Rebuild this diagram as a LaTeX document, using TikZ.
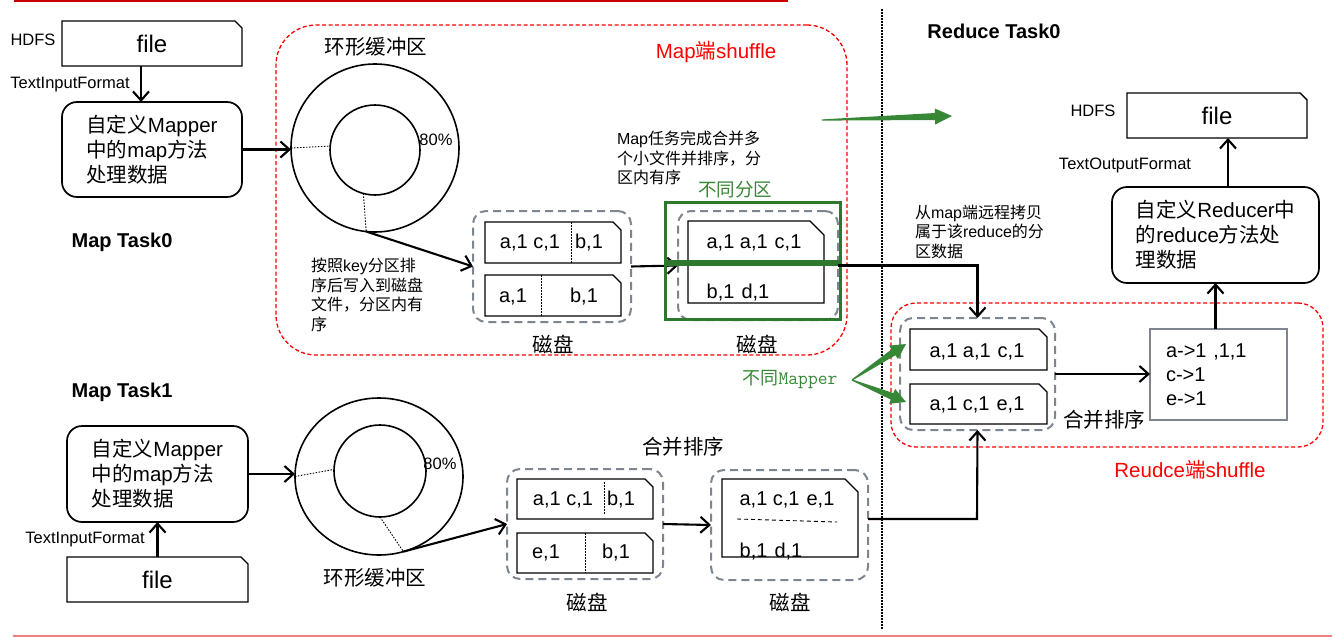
\documentclass[tikz,border=0pt]{standalone}
\usepackage{fontspec}
\setmainfont{Liberation Sans}
\newfontfamily\cjk{Noto Sans CJK SC}
\usetikzlibrary{arrows.meta,calc,shapes.geometric}
\definecolor{mred}{RGB}{255,0,0}
\definecolor{topred}{RGB}{200,0,0}
\definecolor{pinkline}{RGB}{240,128,128}
\definecolor{mgreen}{RGB}{55,135,55}
\definecolor{dgreen}{RGB}{45,120,45}
\definecolor{dgray}{RGB}{125,133,142}
\newcommand\zhx[1]{{\cjk #1}}
\newcommand\chbox[2]{\draw[line width=1.4pt] (#1.south west) -- (#1.north west) -- ([xshift=-#2]#1.north east) -- ([yshift=-#2]#1.north east) -- (#1.south east) -- cycle;}
\newcommand\taper[5]{%
  \coordinate (tb) at ($(#2)!#3!(#1)$);
  \fill[mgreen] ($(#1)!0.6pt!90:(#2)$) -- ($(tb)!#5!-90:(#1)$) -- ($(tb)!#4!-90:(#1)$) -- (#2) -- ($(tb)!#4!90:(#1)$) -- ($(tb)!#5!90:(#1)$) -- ($(#1)!0.6pt!-90:(#2)$) -- cycle;}
\begin{document}
\begin{tikzpicture}[x=1pt,y=-1pt,
  every node/.style={inner sep=0pt,outer sep=0pt},
  rbox/.style={draw,line width=1.7pt,rounded corners=15pt,align=left,font=\fontsize{20.5}{25}\selectfont},
  filebox/.style={minimum width=180pt,minimum height=45pt,font=\fontsize{24}{28}\selectfont},
  diskbox/.style={draw=dgray,line width=2pt,dash pattern=on 8pt off 5pt,rounded corners=13pt},
  redbox/.style={draw=mred,line width=1.3pt,dash pattern=on 4pt off 2.5pt},
  arr/.style={line width=2.1pt,-{Straight Barb[length=9pt,width=16pt]}},
  sepl/.style={line width=0.9pt,dash pattern=on 1.5pt off 1.5pt},
  rec/.style={font=\fontsize{20}{24}\selectfont},
  note/.style={align=left,anchor=north west,font=\fontsize{16}{19.5}\selectfont},
  bigl/.style={font=\fontsize{20.5}{24}\selectfont},
  fmt/.style={font=\fontsize{16.5}{20}\selectfont},
  task/.style={font=\bfseries\fontsize{20}{24}\selectfont},
  ring/.style={draw,line width=1.6pt}
]
\useasboundingbox (0,0) rectangle (1342,637);
% frame lines
\coordinate (tl1) at (14,1.2); \coordinate (tl2) at (788,1.2);
\draw[topred,line width=2pt] (tl1) -- (tl2);
\coordinate (bl1) at (13,636); \coordinate (bl2) at (1332,636);
\draw[pinkline,line width=2pt] (bl1) -- (bl2);
\coordinate (vd1) at (882,9); \coordinate (vd2) at (882,630);
\draw[line width=1.2pt,dash pattern=on 1.5pt off 1.5pt] (vd1) -- (vd2);

% red dashed regions
\node[redbox,rounded corners=40pt,minimum width=571pt,minimum height=330pt] (mapshuf) at (561.5,190) {};
\node[text=mred,font=\fontsize{20.5}{24}\selectfont] (mapshufl) at (716,52) {Map\zhx{端}shuffle};
\node[redbox,rounded corners=25pt,minimum width=432pt,minimum height=144pt] (redshuf) at (1107,375) {};
\node[text=mred,font=\fontsize{20.5}{24}\selectfont] (redshufl) at (1190,470) {Reudce\zhx{端}shuffle};

% ---------- Map Task0 ----------
\node[fmt] (hdfs1) at (33,40) {HDFS};
\node[filebox] (file1) at (152,43.5) {file};
\chbox{file1}{7pt}
\node[fmt] (tif1) at (70,85) {TextInputFormat};
\node[rbox,minimum width=180pt,minimum height=95pt] (map1) at (152,149.5) {\zhx{自定义}Mapper\\\zhx{中的}map\zhx{方法}\\\zhx{处理数据}};
\draw[arr] ([xshift=-11pt]file1.south) -- ([xshift=-11pt]file1.south |- map1.north);
\node[task] (task0) at (122,242) {Map Task0};

\node[ring,circle,minimum size=168pt] (ring0) at (375,148) {};
\node[ring,circle,minimum size=90pt] (in0) at (375,150) {};
\node[bigl] (rl0) at (376,47) {\zhx{环形缓冲区}};
\node[font=\fontsize{16.5}{20}\selectfont] (pct0) at (436,140) {80\%};
\draw[sepl] (ring0.west) -- (in0.175);
\draw[sepl] (in0.255) -- (ring0.264);
\draw[arr] (map1.east) -- (map1.east -| ring0.west);
\node[note] (note0) at (311,258) {\zhx{按照}key\zhx{分区排}\\\zhx{序后写入到磁盘}\\\zhx{文件，分区内有}\\\zhx{序}};

% disk 1
\node[diskbox,minimum width=158pt,minimum height=111pt] (disk1) at (552,266.5) {};
\draw[arr] (ring0.264) -- (disk1.west);
\node[minimum width=136pt,minimum height=41pt] (r1a) at (553,242.5) {};
\chbox{r1a}{8pt}
\draw[sepl] (571,222) -- (571,263);
\node[rec] (t1a) at (530,243) {a,1 c,1};
\node[rec] (t1b) at (589,243) {b,1};
\node[minimum width=136pt,minimum height=41pt] (r1b) at (553,295.5) {};
\chbox{r1b}{8pt}
\draw[sepl] (541,275) -- (541,316);
\node[rec] (t1c) at (513,297) {a,1};
\node[rec] (t1d) at (584,297) {b,1};
\node[bigl] (dl1) at (553,344) {\zhx{磁盘}};

% disk 2
\node[diskbox,minimum width=160pt,minimum height=109pt] (disk2) at (758,265.5) {};
\draw[arr] (disk1.east) -- (disk2.west);
\node[minimum width=136pt,minimum height=82pt] (r2) at (756,262) {};
\chbox{r2}{14pt}
\draw[line width=0.9pt,dash pattern=on 4pt off 3pt] (705,262.5) -- (805,262.5);
\node[rec] (t2a) at (754,243) {a,1 a,1\hspace{7pt}c,1};
\node[rec] (t2b) at (738,293) {b,1\hspace{7pt}d,1};
\node[draw=dgreen,line width=3pt,minimum width=175pt,minimum height=59pt] (g1) at (752.5,231.5) {};
\node[draw=dgreen,line width=3pt,minimum width=175pt,minimum height=55pt] (g2) at (752.5,291.5) {};
\node[text=mgreen,font=\fontsize{18.5}{22}\selectfont] (gl) at (735,190) {\zhx{不同分区}};
\node[note] (note1) at (617,131) {Map\zhx{任务完成合并多}\\\zhx{个小文件并排序，分}\\\zhx{区内有序}};
\node[bigl] (dl2) at (757,344) {\zhx{磁盘}};

% big green arrow
\coordinate (ga1) at (822,120); \coordinate (ga2) at (952,116);
\taper{ga1}{ga2}{17pt}{8pt}{3.5pt}

% ---------- Reduce Task0 ----------
\node[task] (rtask) at (994,31) {Reduce Task0};
\node[fmt] (hdfs2) at (1093,111) {HDFS};
\node[filebox] (file2) at (1217,115.5) {file};
\chbox{file2}{7pt}
\node[fmt] (tof) at (1125,165) {TextOutputFormat};
\node[rbox,minimum width=207pt,minimum height=96pt] (red1) at (1215.5,235) {\zhx{自定义}Reducer\zhx{中}\\\zhx{的}reduce\zhx{方法处}\\\zhx{理数据}};
\draw[arr] ([xshift=11pt]file2.south |- red1.north) -- ([xshift=11pt]file2.south);
\node[note] (note2) at (915,205) {\zhx{从}map\zhx{端远程拷贝}\\\zhx{属于该}reduce\zhx{的分}\\\zhx{区数据}};

\node[diskbox,minimum width=155pt,minimum height=112pt] (disk3) at (977.5,374) {};
\node[minimum width=137pt,minimum height=41pt] (r3a) at (978.5,349.5) {};
\chbox{r3a}{8pt}
\node[rec] (t3a) at (977,352) {a,1 a,1\hspace{7pt}c,1};
\node[minimum width=137pt,minimum height=40pt] (r3b) at (978.5,404) {};
\chbox{r3b}{8pt}
\node[rec] (t3b) at (977,405) {a,1 c,1\hspace{7pt}e,1};
\node[draw=dgray,line width=2pt,minimum width=137pt,minimum height=91pt,text width=105pt,align=left,font=\fontsize{20}{24}\selectfont] (res) at (1218.5,374.5) {a->1 ,1,1\\c->1\\e->1};
\node[bigl] (mg1) at (1104,420) {\zhx{合并排序}};
\draw[arr] (disk3.east) -- (disk3.east -| res.west);
\draw[arr] (res.north -| red1.south) -- (red1.south);
\draw[arr] (disk2.east) -- (disk2.east -| disk3.north) -- (disk3.north);

\node[text=mgreen,font=\fontsize{18}{22}\selectfont] (gm) at (790,380) {\zhx{不同}{\ttfamily\fontsize{19}{22}\selectfont Mapper}};
\coordinate (gmt) at (852,380);
\coordinate (gt1) at (906,344);
\coordinate (gt2) at (906,402);
\taper{gmt}{gt1}{15pt}{8pt}{3.5pt}
\taper{gmt}{gt2}{15pt}{8pt}{3.5pt}

% ---------- Map Task1 ----------
\node[task] (task1) at (122,392) {Map Task1};
\node[rbox,minimum width=181pt,minimum height=96pt] (map2) at (157.5,474) {\zhx{自定义}Mapper\\\zhx{中的}map\zhx{方法}\\\zhx{处理数据}};
\node[fmt] (tif2) at (85,540) {TextInputFormat};
\node[filebox,minimum width=181pt] (file3) at (157.5,579.5) {file};
\chbox{file3}{7pt}
\draw[arr] (file3.north) -- (map2.south);

\node[ring,ellipse,minimum width=168pt,minimum height=157pt] (ring1) at (379,476.5) {};
\node[ring,circle,minimum size=92pt] (in1) at (380,471) {};
\node[font=\fontsize{16.5}{20}\selectfont] (pct1) at (440,464) {80\%};
\node[bigl] (rl1) at (375,578) {\zhx{环形缓冲区}};
\draw[sepl] (ring1.west) -- (in1.178);
\draw[sepl] (in1.270) -- (ring1.288);
\draw[arr] (map2.east) -- (map2.east -| ring1.west);

\node[bigl] (mg2) at (683,447) {\zhx{合并排序}};
\node[diskbox,minimum width=156pt,minimum height=110pt] (disk4) at (585,524) {};
\draw[arr] (ring1.288) -- (disk4.west);
\node[minimum width=136pt,minimum height=40pt] (r4a) at (585,499) {};
\chbox{r4a}{8pt}
\draw[sepl] (604,482) -- (604,515);
\node[rec] (t4a) at (563,500) {a,1 c,1};
\node[rec] (t4b) at (621,500) {b,1};
\node[minimum width=136pt,minimum height=40pt] (r4b) at (585,553) {};
\chbox{r4b}{8pt}
\draw[sepl] (585,533) -- (585,573);
\node[rec] (t4c) at (546,553) {e,1};
\node[rec] (t4d) at (616,553) {b,1};
\node[bigl] (dl4) at (587,602) {\zhx{磁盘}};

\node[diskbox,minimum width=157pt,minimum height=110pt] (disk5) at (789.5,525) {};
\draw[arr] (disk4.east) -- (disk5.west);
\node[minimum width=136pt,minimum height=78pt] (r5) at (790,518) {};
\chbox{r5}{13pt}
\node[rec] (t5a) at (787,500) {a,1 c,1\hspace{7pt}e,1};
\draw[line width=0.9pt,dash pattern=on 4pt off 3pt] (737,519) -- (837,522);
\node[rec] (t5b) at (771,552) {b,1\hspace{7pt}d,1};
\node[bigl] (dl5) at (790,602) {\zhx{磁盘}};
\coordinate (j5) at (977,519);
\draw[arr] ([yshift=6pt]disk5.east) -- (j5) -- (disk3.south);
\end{tikzpicture}
\end{document}
